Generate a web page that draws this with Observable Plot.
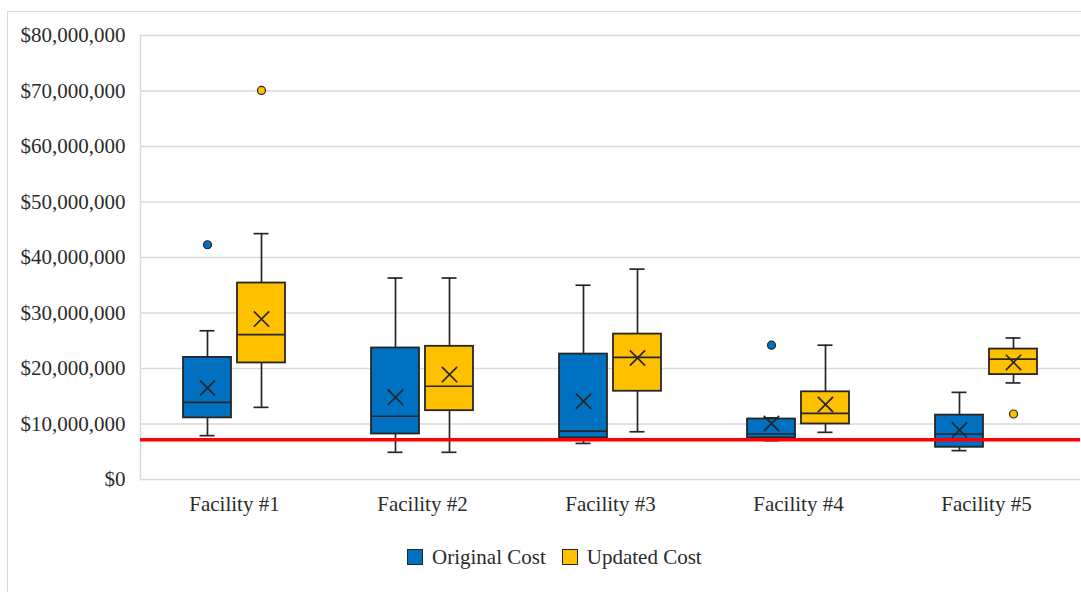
<!DOCTYPE html>
<html>
<head>
<meta charset="utf-8">
<script src="https://cdn.jsdelivr.net/npm/d3@7"></script>
<script src="https://cdn.jsdelivr.net/npm/@observablehq/plot@0.6"></script>
<style>
  body { margin: 0; background: #fff; font-family: "Liberation Serif", "Times New Roman", serif; }
  #wrap { position: relative; width: 1081px; height: 592px; overflow: hidden; background: #fff; }
  #border { position: absolute; left: 7px; top: 11px; width: 1200px; height: 700px; border-left: 1px solid #d9d9d9; border-top: 1px solid #d9d9d9; }
  #chart { position: absolute; left: 0; top: 0; }
  #legend { position: absolute; left: 407px; top: 530px; height: 54px; display: flex; align-items: center; font-size: 21px; color: #2b2b2b; }
  .item { display: flex; align-items: center; margin-right: 16px; }
  .sw { width: 16px; height: 16px; border: 1.5px solid #262626; margin-right: 9px; box-sizing: border-box; }
</style>
</head>
<body>
<div id="wrap">
  <div id="border"></div>
  <div id="chart"></div>
  <div id="legend"></div>
</div>
<script>
// ---- data (values in millions of dollars) ----
const facilities = ["Facility #1", "Facility #2", "Facility #3", "Facility #4", "Facility #5"];
const series = ["Original Cost", "Updated Cost"];
const seriesColors = ["#0070C0", "#FFC000"];

const origMin    = [7.9, 4.9, 6.5, 7.0, 5.2];
const origQ1     = [11.1, 8.2, 7.5, 7.5, 5.8];
const origMedian = [13.9, 11.4, 8.7, 8.2, 8.2];
const origQ3     = [22.0, 23.7, 22.6, 10.9, 11.6];
const origMax    = [26.8, 36.3, 35.0, 11.1, 15.7];
const origMean   = [16.5, 14.8, 14.1, 10.1, 8.9];

const updMin     = [13.0, 4.9, 8.6, 8.5, 17.4];
const updQ1      = [21.0, 12.4, 15.9, 10.0, 18.9];
const updMedian  = [26.1, 16.8, 22.0, 11.9, 21.7];
const updQ3      = [35.4, 24.0, 26.2, 15.8, 23.5];
const updMax     = [44.3, 36.3, 37.9, 24.2, 25.5];
const updMean    = [28.9, 18.9, 21.9, 13.5, 21.1];

const outlierFacility = ["Facility #1", "Facility #4", "Facility #1", "Facility #5"];
const outlierSeries   = ["Original Cost", "Original Cost", "Updated Cost", "Updated Cost"];
const outlierValue    = [42.3, 24.2, 70.1, 11.8];

const threshold = 7.15;
const yTicks = [0, 10, 20, 30, 40, 50, 60, 70, 80];

// ---- build tables ----
const M = 1e6;
const rows = facilities.flatMap((f, i) => [
  {facility: f, series: series[0], min: origMin[i]*M, q1: origQ1[i]*M, median: origMedian[i]*M, q3: origQ3[i]*M, max: origMax[i]*M, mean: origMean[i]*M},
  {facility: f, series: series[1], min: updMin[i]*M, q1: updQ1[i]*M, median: updMedian[i]*M, q3: updQ3[i]*M, max: updMax[i]*M, mean: updMean[i]*M}
]);
const outRows = outlierValue.map((v, i) => ({facility: outlierFacility[i], series: outlierSeries[i], value: v*M}));

const ink = "#262626";
const fmt = d => "$" + d3.format(",")(d);

const chart = Plot.plot({
  width: 1081,
  height: 530,
  marginLeft: 140,
  marginRight: 1,
  marginTop: 35,
  marginBottom: 51,
  style: {fontFamily: '"Liberation Serif", "Times New Roman", serif', fontSize: "21px", color: "#2b2b2b", background: "transparent"},
  fx: {domain: facilities, padding: 0, label: null, axis: "bottom", tickSize: 0, tickPadding: 17},
  x: {domain: series, axis: null, paddingInner: 0.111, paddingOuter: 0.796},
  y: {domain: [0, 80*M], axis: null},
  color: {domain: series, range: seriesColors},
  marks: [
    Plot.gridY(yTicks.map(d => d*M), {stroke: "#d9d9d9", strokeOpacity: 1, strokeWidth: 1.5}),
    Plot.frame({anchor: "left", facetAnchor: "left", stroke: "#d9d9d9", strokeWidth: 1.5}),
    Plot.axisY(yTicks.map(d => d*M), {tickSize: 0, tickPadding: 15, tickFormat: fmt, label: null, fontSize: 21}),
    Plot.ruleX(rows, {fx: "facility", x: "series", y1: "min", y2: "q1", stroke: ink, strokeWidth: 1.7}),
    Plot.ruleX(rows, {fx: "facility", x: "series", y1: "q3", y2: "max", stroke: ink, strokeWidth: 1.7}),
    Plot.tickY(rows, {fx: "facility", x: "series", y: "min", stroke: ink, strokeWidth: 1.7, insetLeft: 16.5, insetRight: 16.5}),
    Plot.tickY(rows, {fx: "facility", x: "series", y: "max", stroke: ink, strokeWidth: 1.7, insetLeft: 16.5, insetRight: 16.5}),
    Plot.barY(rows, {fx: "facility", x: "series", y1: "q1", y2: "q3", fill: "series", stroke: ink, strokeWidth: 1.8}),
    Plot.tickY(rows, {fx: "facility", x: "series", y: "median", stroke: ink, strokeWidth: 1.7}),
    Plot.dot(rows, {fx: "facility", x: "series", y: "mean", symbol: "times", r: 7, stroke: ink, strokeWidth: 1.7}),
    Plot.dot(outRows, {fx: "facility", x: "series", y: "value", r: 4, fill: "series", stroke: ink, strokeWidth: 1.2}),
    Plot.ruleY([threshold*M], {stroke: "#ff0000", strokeWidth: 3.5})
  ]
});
document.getElementById("chart").append(chart);

const legend = document.getElementById("legend");
series.forEach((s, i) => {
  const item = document.createElement("div");
  item.className = "item";
  const sw = document.createElement("span");
  sw.className = "sw";
  sw.style.background = seriesColors[i];
  const label = document.createElement("span");
  label.textContent = s;
  item.append(sw, label);
  legend.append(item);
});
</script>
</body>
</html>
